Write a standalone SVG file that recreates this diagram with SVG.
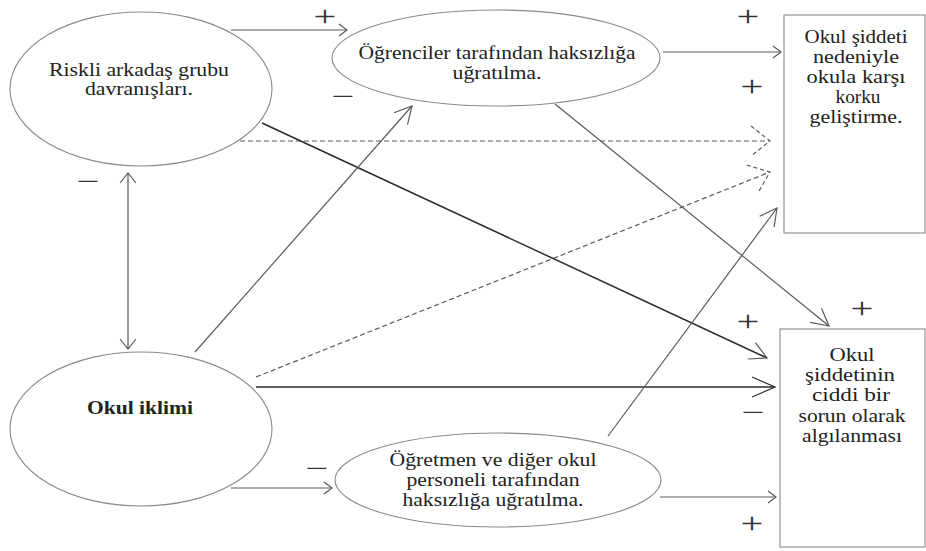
<svg xmlns="http://www.w3.org/2000/svg" width="926" height="551" viewBox="0 0 926 551">
<style>
.node ellipse, .node rect { fill: #fff; stroke: #8a8a8a; stroke-width: 1.1; }
.t { font-family: "Liberation Serif", "Times New Roman", serif; font-size: 18px; fill: #222; text-anchor: middle; }
.b { font-weight: bold; }
.c { fill: none; stroke: #5a5a5a; stroke-width: 1.2; }
.dk { stroke: #2a2a2a; stroke-width: 1.5; }
.ds { stroke-dasharray: 5 3; }
.m { fill: none; stroke: #5a5a5a; stroke-width: 1.2; }
.sg { font-family: "Liberation Serif", "Times New Roman", serif; font-size: 29px; fill: #333; text-anchor: middle; }
</style>
<defs>
<marker id="ah-s" markerUnits="userSpaceOnUse" orient="auto" refX="0" refY="0" markerWidth="20" markerHeight="20" overflow="visible"><path class="m" d="M-8,-6 L0,0 L-8,6"/></marker>
<marker id="ah-v" markerUnits="userSpaceOnUse" orient="auto-start-reverse" refX="0" refY="0" markerWidth="20" markerHeight="20" overflow="visible"><path class="m" d="M-10,-8 L0,0 L-10,8"/></marker>
<marker id="ah-m" markerUnits="userSpaceOnUse" orient="auto" refX="0" refY="0" markerWidth="30" markerHeight="30" overflow="visible"><path class="m" d="M-17,-9 L0,0 L-17,9"/></marker>
<marker id="ah-l" markerUnits="userSpaceOnUse" orient="auto" refX="0" refY="0" markerWidth="30" markerHeight="30" overflow="visible"><path class="m" d="M-23,-10 L0,0 L-23,10" style="stroke:#2a2a2a"/></marker>
<marker id="ah-d" markerUnits="userSpaceOnUse" orient="auto" refX="0" refY="0" markerWidth="30" markerHeight="30" overflow="visible"><path class="m" d="M-19,-15 L0,0 L-19,15" style="stroke-dasharray:4 3"/></marker>
</defs>

<g id="connectors">
<line class="c" x1="231" y1="30" x2="347" y2="30" marker-end="url(#ah-s)"/>
<line class="c" x1="663" y1="52" x2="781" y2="52" marker-end="url(#ah-s)"/>
<line class="c ds" x1="240" y1="141" x2="770" y2="141" marker-end="url(#ah-d)"/>
<line class="c ds" x1="256" y1="377" x2="770" y2="172" marker-end="url(#ah-d)"/>
<line class="c dk" x1="262" y1="123" x2="767" y2="358" marker-end="url(#ah-m)"/>
<line class="c" x1="195" y1="352" x2="412" y2="106" marker-end="url(#ah-m)"/>
<line class="c dk" x1="256" y1="387" x2="775" y2="387" marker-end="url(#ah-l)"/>
<line class="c" x1="128" y1="173" x2="128" y2="349" marker-start="url(#ah-v)" marker-end="url(#ah-v)"/>
<line class="c" x1="231" y1="488" x2="332" y2="488" marker-end="url(#ah-s)"/>
<line class="c" x1="608" y1="436" x2="777" y2="208" marker-end="url(#ah-m)"/>
<line class="c" x1="660" y1="497" x2="776" y2="497" marker-end="url(#ah-s)"/>
<line class="c" x1="555" y1="104" x2="829" y2="326" marker-end="url(#ah-m)"/>
</g>

<g id="signs">
<text class="sg" transform="translate(325,26) scale(1.4,1)">+</text>
<text class="sg" transform="translate(343,106) scale(1.4,1)">−</text>
<text class="sg" transform="translate(88,191) scale(1.4,1)">−</text>
<text class="sg" transform="translate(748,26) scale(1.4,1)">+</text>
<text class="sg" transform="translate(752,96) scale(1.4,1)">+</text>
<text class="sg" transform="translate(748,331) scale(1.4,1)">+</text>
<text class="sg" transform="translate(862,318) scale(1.4,1)">+</text>
<text class="sg" transform="translate(753,422) scale(1.4,1)">−</text>
<text class="sg" transform="translate(317,478) scale(1.4,1)">−</text>
<text class="sg" transform="translate(752,533) scale(1.4,1)">+</text>
</g>

<g id="riskli" class="node">
<ellipse cx="141" cy="89" rx="131" ry="77"/>
<text class="t" x="139" y="76" textLength="180" lengthAdjust="spacingAndGlyphs">Riskli arkadaş grubu</text>
<text class="t" x="139" y="95" textLength="108" lengthAdjust="spacingAndGlyphs">davranışları.</text>
</g>

<g id="ogrenciler" class="node">
<ellipse cx="496" cy="58" rx="164" ry="48"/>
<text class="t" x="497" y="59" textLength="277" lengthAdjust="spacingAndGlyphs">Öğrenciler tarafından haksızlığa</text>
<text class="t" x="497" y="79" textLength="89" lengthAdjust="spacingAndGlyphs">uğratılma.</text>
</g>

<g id="okul-iklimi" class="node">
<ellipse cx="141" cy="429" rx="131" ry="77"/>
<text class="t b" x="140" y="414" textLength="106" lengthAdjust="spacingAndGlyphs">Okul iklimi</text>
</g>

<g id="ogretmen" class="node">
<ellipse cx="498" cy="480" rx="163" ry="47"/>
<text class="t" x="493" y="466" textLength="207" lengthAdjust="spacingAndGlyphs">Öğretmen ve diğer okul</text>
<text class="t" x="493" y="486" textLength="173" lengthAdjust="spacingAndGlyphs">personeli tarafından</text>
<text class="t" x="493" y="506" textLength="181" lengthAdjust="spacingAndGlyphs">haksızlığa uğratılma.</text>
</g>

<g id="korku" class="node">
<rect x="784" y="15" width="141" height="218"/>
<text class="t" x="856" y="43" textLength="103" lengthAdjust="spacingAndGlyphs">Okul şiddeti</text>
<text class="t" x="856" y="63" textLength="86" lengthAdjust="spacingAndGlyphs">nedeniyle</text>
<text class="t" x="856" y="83" textLength="99" lengthAdjust="spacingAndGlyphs">okula karşı</text>
<text class="t" x="858" y="103" textLength="45" lengthAdjust="spacingAndGlyphs">korku</text>
<text class="t" x="856" y="123" textLength="93" lengthAdjust="spacingAndGlyphs">geliştirme.</text>
</g>

<g id="algilanma" class="node">
<rect x="780" y="329" width="145" height="218"/>
<text class="t" x="852" y="361" textLength="45" lengthAdjust="spacingAndGlyphs">Okul</text>
<text class="t" x="850" y="381" textLength="90" lengthAdjust="spacingAndGlyphs">şiddetinin</text>
<text class="t" x="851" y="401" textLength="78" lengthAdjust="spacingAndGlyphs">ciddi bir</text>
<text class="t" x="852" y="422" textLength="107" lengthAdjust="spacingAndGlyphs">sorun olarak</text>
<text class="t" x="852" y="442" textLength="100" lengthAdjust="spacingAndGlyphs">algılanması</text>
</g>
</svg>
